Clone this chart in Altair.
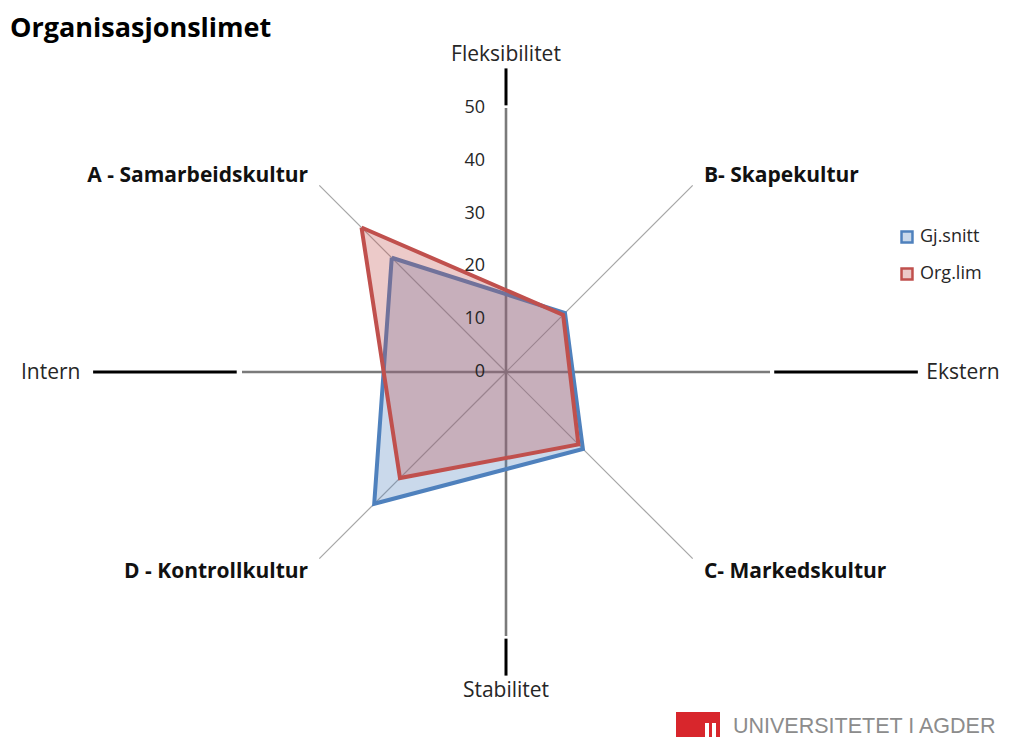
import math
import altair as alt
import pandas as pd

# ---------------- data ----------------
categories = ["A - Samarbeidskultur", "B- Skapekultur", "C- Markedskultur", "D - Kontrollkultur"]
category_angles = [135, 45, -45, -135]
gj_snitt = [30.6, 15.8, 20.6, 35.3]
org_lim = [38.7, 15.3, 19.4, 28.4]
series_names = ["Gj.snitt", "Org.lim"]
tick_values = [0, 10, 20, 30, 40, 50]
cross_labels = ["Fleksibilitet", "Ekstern", "Stabilitet", "Intern"]
cross_angles = [90, 0, -90, 180]

# ---------------- geometry / style ----------------
R_MAX = 50
K = 5.28            # pixels per unit
W, H = 993, 729
CX, CY = 498, 364   # plot-pixel position of the centre
x_dom = [-CX / K, (W - CX) / K]
y_dom = [-(H - CY) / K, CY / K]
xs = alt.Scale(domain=x_dom, nice=False, zero=False)
ys = alt.Scale(domain=y_dom, nice=False, zero=False)
FONT = "Open Sans"
BLUE, RED = "#4f81bd", "#c0504d"
BLUE_F, RED_F = "rgba(79,129,189,0.30)", "rgba(192,80,77,0.30)"


def pol(r, a):
    return r * math.cos(math.radians(a)), r * math.sin(math.radians(a))


# spokes
sp_rows = []
for a in category_angles:
    x1, y1 = pol(R_MAX, a)
    sp_rows.append(dict(x0=0, y0=0, x1=x1, y1=y1, w=1.2, c="#a6a6a6"))
for a in cross_angles:
    x1, y1 = pol(R_MAX, a)
    sp_rows.append(dict(x0=0, y0=0, x1=x1, y1=y1, w=2.6, c="#7a7a7a"))
outer_r = {90: 57.5, -90: 57.5, 0: 78.0, 180: 78.2}
inner_r = {90: 50.5, -90: 50.5, 0: 50.8, 180: 51.0}
for a in cross_angles:
    x0, y0 = pol(inner_r[a], a)
    x1, y1 = pol(outer_r[a], a)
    sp_rows.append(dict(x0=x0, y0=y0, x1=x1, y1=y1, w=3.0, c="#000000"))
spokes_df = pd.DataFrame(sp_rows)

spokes = alt.Chart(spokes_df).mark_rule().encode(
    x=alt.X("x0:Q", scale=xs, axis=None),
    y=alt.Y("y0:Q", scale=ys, axis=None),
    x2="x1:Q", y2="y1:Q",
    strokeWidth=alt.StrokeWidth("w:Q", scale=None),
    color=alt.Color("c:N", scale=None),
)

# polygons
poly_rows = []
for s, vals in zip(series_names, [gj_snitt, org_lim]):
    for i in range(len(categories) + 1):
        j = i % len(categories)
        x, y = pol(vals[j], category_angles[j])
        poly_rows.append(dict(series=s, order=i, x=x, y=y))
poly_df = pd.DataFrame(poly_rows)

leg = dict(orient="none", legendX=890, legendY=220, title=None, symbolType="square",
           symbolSize=120, symbolStrokeWidth=2.5, labelFont=FONT, labelFontSize=18,
           labelColor="#262626", rowPadding=15, labelOffset=4)

polys = alt.Chart(poly_df).mark_line(strokeWidth=4).encode(
    x=alt.X("x:Q", scale=xs, axis=None),
    y=alt.Y("y:Q", scale=ys, axis=None),
    order="order:Q",
    stroke=alt.Stroke("series:N", scale=alt.Scale(domain=series_names, range=[BLUE, RED]),
                      legend=alt.Legend(**leg)),
    fill=alt.Fill("series:N", scale=alt.Scale(domain=series_names, range=[BLUE_F, RED_F]),
                  legend=alt.Legend(**leg)),
)

# tick labels
ticks_df = pd.DataFrame({"v": tick_values, "x": [0] * len(tick_values),
                         "label": [str(v) for v in tick_values]})
ticks = alt.Chart(ticks_df).mark_text(align="right", baseline="middle", dx=-21,
                                      font=FONT, fontSize=18, color="#262626").encode(
    x=alt.X("x:Q", scale=xs, axis=None), y=alt.Y("v:Q", scale=ys, axis=None), text="label:N")

# category labels
LAB_R = 53
cat_rows = []
for c, a in zip(categories, category_angles):
    x, y = pol(LAB_R, a)
    cat_rows.append(dict(label=c, x=x, y=y, side="L" if x < 0 else "R"))
cat_df = pd.DataFrame(cat_rows)
cat_left = alt.Chart(cat_df).transform_filter(alt.datum.side == "L").mark_text(
    align="right", baseline="middle", dy=2, font=FONT, fontWeight="bold", fontSize=21,
    color="#111111"
).encode(x=alt.X("x:Q", scale=xs, axis=None), y=alt.Y("y:Q", scale=ys, axis=None), text="label:N")
cat_right = alt.Chart(cat_df).transform_filter(alt.datum.side == "R").mark_text(
    align="left", baseline="middle", dy=2, font=FONT, fontWeight="bold", fontSize=21,
    color="#111111"
).encode(x=alt.X("x:Q", scale=xs, axis=None), y=alt.Y("y:Q", scale=ys, axis=None), text="label:N")

# cross labels
cross_r = {90: 60.3, -90: 60.2, 0: 79.6, 180: 80.6}
cr_rows = []
for c, a in zip(cross_labels, cross_angles):
    x, y = pol(cross_r[a], a)
    al = "center" if a in (90, -90) else ("left" if a == 0 else "right")
    cr_rows.append(dict(label=c, x=x, y=y, al=al))
cr_df = pd.DataFrame(cr_rows)
cross_layers = []
for al in ["center", "left", "right"]:
    cross_layers.append(
        alt.Chart(cr_df).transform_filter(alt.datum.al == al).mark_text(
            align=al, baseline="middle", dy=1, font=FONT, fontSize=21, color="#262626"
        ).encode(x=alt.X("x:Q", scale=xs, axis=None), y=alt.Y("y:Q", scale=ys, axis=None),
                 text="label:N"))

# title
title = alt.Chart(pd.DataFrame({"t": ["Organisasjonslimet"]})).mark_text(
    align="left", baseline="middle", font=FONT, fontWeight="bold", fontSize=27, color="#000000"
).encode(x=alt.value(2), y=alt.value(21), text="t:N")

# logo
logo_box = alt.Chart(pd.DataFrame({"k": [1]})).mark_rect(color="#d8262c").encode(
    x=alt.value(668), x2=alt.value(712), y=alt.value(704), y2=alt.value(729))
logo_bars = alt.Chart(pd.DataFrame({"x0": [697, 704], "x1": [701, 708]})).mark_rect(
    color="#ffffff").encode(x=alt.X("x0:Q", scale=None), x2="x1:Q",
                            y=alt.value(715), y2=alt.value(729))
logo_text = alt.Chart(pd.DataFrame({"t": ["UNIVERSITETET I AGDER"]})).mark_text(
    align="left", baseline="middle", font="Liberation Sans", fontSize=21.5, color="#8c8c8c"
).encode(x=alt.value(725), y=alt.value(719), text="t:N")

chart = alt.layer(spokes, polys, ticks, cat_left, cat_right, *cross_layers, title,
                  logo_box, logo_bars, logo_text).properties(
    width=W, height=H, autosize=alt.AutoSizeParams(type="none"), padding=0
).configure_view(strokeWidth=0)

chart.save("out.html", embed_options={"renderer": "svg", "actions": False})
